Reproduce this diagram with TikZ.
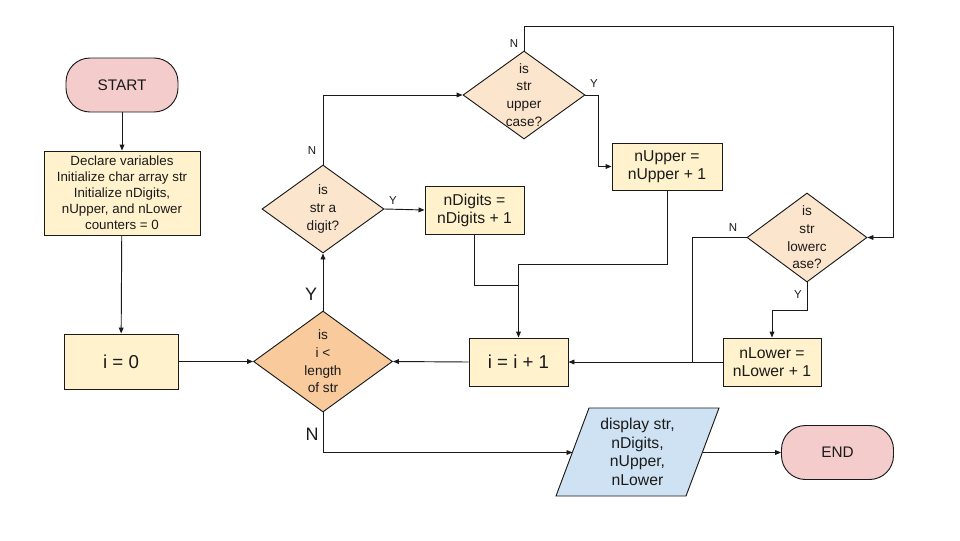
\documentclass[tikz,border=0pt]{standalone}
\usepackage{fontspec}
\setmainfont{Liberation Sans}
\usetikzlibrary{shapes.geometric,arrows.meta}
\definecolor{termpink}{HTML}{F4CCCC}
\definecolor{procyellow}{HTML}{FFF2CC}
\definecolor{decpeach}{HTML}{FCE5CD}
\definecolor{decorange}{HTML}{F9CB9C}
\definecolor{ioblue}{HTML}{CFE2F3}
\definecolor{ink}{HTML}{1A1A1A}
\tikzset{
  base/.style={draw=ink, line width=0.7pt, inner sep=0pt, align=center, text=ink},
  term/.style={base, fill=termpink, rounded corners=18pt, minimum width=84pt, minimum height=40.5pt,
    font=\fontsize{11.5}{13}\selectfont},
  proc/.style={base, fill=procyellow, font=\fontsize{11.8}{13.5}\selectfont},
  bigproc/.style={proc, font=\fontsize{14}{16}\selectfont},
  decision/.style={base, diamond, fill=decpeach},
  dtext/.style={align=center, text=ink, font=\fontsize{10.2}{13.3}\selectfont},
  iotext/.style={align=center, text=ink, font=\fontsize{11.8}{14}\selectfont},
  lbl/.style={text=ink, font=\fontsize{8.6}{10}\selectfont},
  biglbl/.style={text=ink, font=\fontsize{13.5}{15}\selectfont},
  flow/.style={draw=ink, line width=0.7pt, -{Triangle[length=4.5pt,width=3.6pt]}},
  wire/.style={draw=ink, line width=0.7pt}
}
\begin{document}
\begin{tikzpicture}[x=0.75pt, y=-0.75pt]
\useasboundingbox (0,0) rectangle (960,540);

% terminals
\node[term] (start) at (122,85) {START};
\node[term] (end) at (837.5,452.5) {END};

% process boxes
\node[proc, minimum width=117pt, minimum height=63pt, font=\fontsize{10}{12}\selectfont] (decl) at (122,193)
  {Declare variables\\Initialize char array str\\Initialize nDigits,\\nUpper, and nLower\\counters = 0};
\node[bigproc, minimum width=85.5pt, minimum height=41.25pt] (i0) at (121,361.5) {i = 0};
\node[bigproc, minimum width=74.25pt, minimum height=36pt] (inc) at (518.5,362) {i = i + 1};
\node[proc, minimum width=74.25pt, minimum height=36pt] (ndig) at (474.5,210) {nDigits =\\nDigits + 1};
\node[proc, minimum width=82.5pt, minimum height=35.25pt] (nup) at (667,166.5) {nUpper =\\nUpper + 1};
\node[proc, minimum width=73.5pt, minimum height=36pt] (nlow) at (772,362) {nLower =\\nLower + 1};

% decisions
\node[decision, fill=decorange, minimum width=104.25pt, minimum height=75.75pt] (main) at (323,361.5) {};
\node[dtext] at (main) {is\\i <\\length\\of str};
\node[decision, minimum width=91.5pt, minimum height=66pt] (dig) at (323,209) {};
\node[dtext] at (dig) {is\\str a\\digit?};
\node[decision, minimum width=91.5pt, minimum height=66pt] (up) at (524,95) {};
\node[dtext] at (up) {is\\str\\upper\\case?};
\node[decision, minimum width=90pt, minimum height=66.75pt] (low) at (807,237.5) {};
\node[dtext] at (low) {is\\str\\lowerc\\ase?};

% output parallelogram
\coordinate (pa) at (589,408);
\coordinate (pb) at (719,408);
\coordinate (pc) at (686,496);
\coordinate (pd) at (556,496);
\draw[wire, fill=ioblue] (pa) -- (pb) -- (pc) -- (pd) -- cycle;
\node[iotext] (disp) at (637.5,452) {display str,\\nDigits,\\nUpper,\\nLower};
\coordinate (dispL) at (572.5,452.5);
\coordinate (dispR) at (702.5,452.5);

% junction points
\coordinate (jUp) at (518.5,264);
\coordinate (jDig) at (518.5,285);
\coordinate (topR) at (893,26);
\coordinate (lowN) at (692,362);

% connectors
\draw[flow] (start) -- (decl);
\draw[flow] (decl) -- (i0);
\draw[flow] (i0) -- (main.west);
\draw[flow] (main.north) -- (dig.south);
\draw[flow] (dig.north) |- (up.west);
\draw[flow] (dig.east) -- (ndig.west);
\draw[flow] (up.east) -- ++(13,0) |- (nup.west);
\draw[flow] (up.north) |- (topR) |- (low.east);
\draw[flow] (nup.south) |- (jUp) -- (inc.north);
\draw[wire] (ndig.south) |- (jDig);
\draw[flow] (low.south) -- (807,310) -| (nlow.north);
\draw[wire] (low.west) -| (lowN);
\draw[flow] (nlow.west) -- (inc.east);
\draw[flow] (inc.west) -- (main.east);
\draw[flow] (main.south) |- (dispL);
\draw[flow] (dispR) -- (end.west);

% branch labels
\node[lbl] at (514,44) {N};
\node[lbl] at (594,84) {Y};
\node[lbl] at (312,151) {N};
\node[lbl] at (393,201) {Y};
\node[lbl] at (733,228) {N};
\node[lbl] at (798,295) {Y};
\node[biglbl] at (311,294) {Y};
\node[biglbl] at (312,434) {N};
\end{tikzpicture}
\end{document}
